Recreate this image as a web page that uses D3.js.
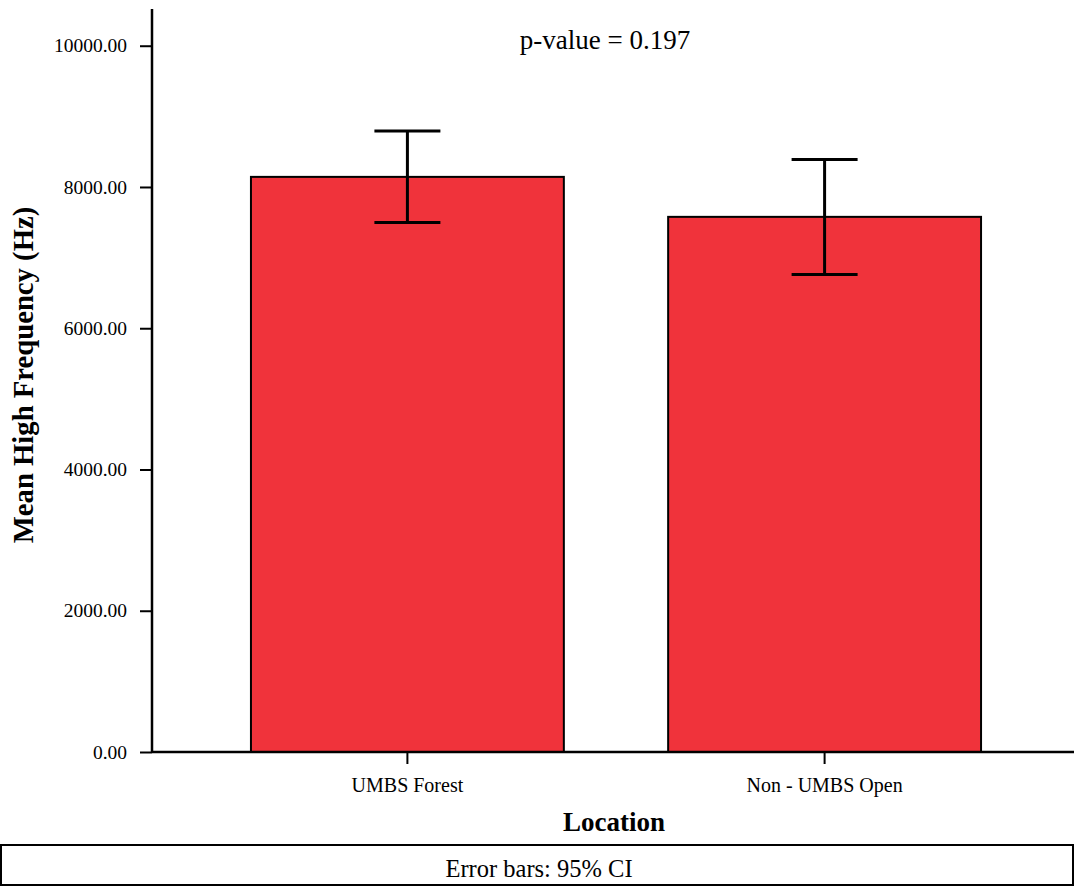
<!DOCTYPE html>
<html>
<head>
<meta charset="utf-8">
<script src="https://cdn.jsdelivr.net/npm/d3@7"></script>
<style>
  html, body { margin: 0; padding: 0; background: #fff; }
  svg { display: block; }
  text { font-family: "Liberation Serif", "Times New Roman", serif; fill: #000; }
</style>
</head>
<body>
<svg id="chart" width="1074" height="888"></svg>
<script>
// ---- data ----
const categories = ["UMBS Forest", "Non - UMBS Open"];
const means = [8143, 7577];
const ciLower = [7497, 6761];
const ciUpper = [8794, 8389];
const yTicks = [0, 2000, 4000, 6000, 8000, 10000];
const pValueLabel = "p-value = 0.197";
const xTitle = "Location";
const yTitle = "Mean High Frequency (Hz)";
const footnote = "Error bars: 95% CI";

// ---- layout ----
const W = 1074, H = 888;
const x0 = 152, yBase = 752, yTop = 9;
const svg = d3.select("#chart");

const y = d3.scaleLinear().domain([0, 10520]).range([yBase, yTop]);
const x = d3.scaleBand().domain(categories).range([155, 1077])
  .paddingInner(0.25).paddingOuter(0.23);

const barColor = "#f0333b";

// bars
svg.append("g").selectAll("rect").data(categories).join("rect")
  .attr("x", d => x(d))
  .attr("y", (d, i) => y(means[i]))
  .attr("width", x.bandwidth())
  .attr("height", (d, i) => yBase - y(means[i]))
  .attr("fill", barColor)
  .attr("stroke", "#000")
  .attr("stroke-width", 2);

// error bars
const capHalf = 33;
const eb = svg.append("g").attr("stroke", "#000").attr("stroke-width", 3);
categories.forEach((c, i) => {
  const cx = x(c) + x.bandwidth() / 2;
  eb.append("line").attr("x1", cx).attr("x2", cx).attr("y1", y(ciUpper[i])).attr("y2", y(ciLower[i]));
  eb.append("line").attr("x1", cx - capHalf).attr("x2", cx + capHalf).attr("y1", y(ciUpper[i])).attr("y2", y(ciUpper[i]));
  eb.append("line").attr("x1", cx - capHalf).attr("x2", cx + capHalf).attr("y1", y(ciLower[i])).attr("y2", y(ciLower[i]));
});

// y axis
const yAxis = d3.axisLeft(y).tickValues(yTicks).tickFormat(d3.format(".2f"))
  .tickSize(12).tickPadding(13);
const gy = svg.append("g").attr("transform", `translate(${x0},0)`).call(yAxis);
gy.select(".domain").remove();
gy.selectAll(".tick line").attr("stroke", "#000").attr("stroke-width", 2);
gy.selectAll(".tick text").attr("font-size", 19.5).attr("font-family", "Liberation Serif").attr("fill", "#000");
svg.append("line").attr("x1", x0).attr("x2", x0).attr("y1", yTop).attr("y2", yBase + 1)
  .attr("stroke", "#000").attr("stroke-width", 2.5);

// x axis
const xAxis = d3.axisBottom(x).tickSize(12).tickPadding(14);
const gx = svg.append("g").attr("transform", `translate(0,${yBase})`).call(xAxis);
gx.select(".domain").remove();
gx.selectAll(".tick line").attr("stroke", "#000").attr("stroke-width", 2);
gx.selectAll(".tick text").attr("font-size", 20).attr("font-family", "Liberation Serif").attr("fill", "#000");
svg.append("line").attr("x1", x0).attr("x2", W).attr("y1", yBase).attr("y2", yBase)
  .attr("stroke", "#000").attr("stroke-width", 2.5);

// titles
svg.append("text").attr("x", 614).attr("y", 831).attr("text-anchor", "middle")
  .attr("font-size", 27).attr("font-weight", "bold").text(xTitle);
svg.append("text").attr("transform", "translate(33,375) rotate(-90)").attr("text-anchor", "middle")
  .attr("font-size", 28.7).attr("font-weight", "bold").text(yTitle);
svg.append("text").attr("x", 605).attr("y", 49).attr("text-anchor", "middle")
  .attr("font-size", 27).text(pValueLabel);

// footnote box
svg.append("rect").attr("x", 1).attr("y", 845).attr("width", W - 2).attr("height", 40)
  .attr("fill", "none").attr("stroke", "#000").attr("stroke-width", 2);
svg.append("text").attr("x", 539).attr("y", 877).attr("text-anchor", "middle")
  .attr("font-size", 24.5).text(footnote);
</script>
</body>
</html>
